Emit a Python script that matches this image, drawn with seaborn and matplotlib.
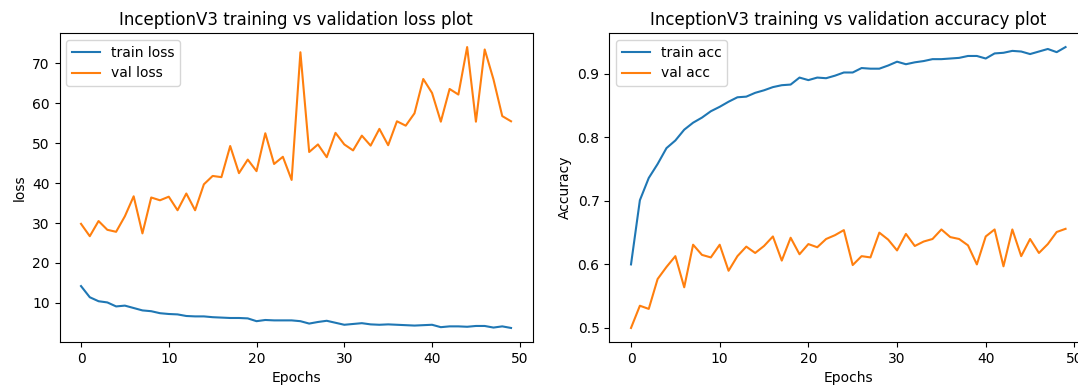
import numpy as np
import matplotlib
matplotlib.use("Agg")
import matplotlib.pyplot as plt
import seaborn as sns

epochs = list(range(50))

train_loss = [14.2, 11.4, 10.4, 10.1, 9.1, 9.3, 8.7, 8.1, 7.9, 7.4,
              7.2, 7.1, 6.7, 6.6, 6.6, 6.4, 6.3, 6.2, 6.2, 6.1,
              5.4, 5.7, 5.6, 5.6, 5.6, 5.4, 4.8, 5.2, 5.5, 5.0,
              4.5, 4.7, 4.9, 4.6, 4.5, 4.6, 4.5, 4.4, 4.3, 4.4,
              4.5, 3.9, 4.1, 4.1, 4.0, 4.2, 4.2, 3.8, 4.1, 3.7]
val_loss = [29.8, 26.7, 30.5, 28.3, 27.8, 31.7, 36.7, 27.4, 36.4, 35.7,
            36.6, 33.2, 37.4, 33.2, 39.7, 41.8, 41.5, 49.3, 42.5, 45.9,
            43.0, 52.5, 44.8, 46.6, 40.8, 72.8, 47.8, 49.7, 46.5, 52.6,
            49.7, 48.2, 51.9, 49.4, 53.6, 49.5, 55.5, 54.4, 57.5, 66.1,
            62.6, 55.4, 63.6, 62.2, 74.1, 55.4, 73.5, 66.0, 56.8, 55.5]

train_acc = [0.600, 0.701, 0.736, 0.758, 0.783, 0.795, 0.812, 0.823, 0.831, 0.841,
             0.848, 0.856, 0.863, 0.864, 0.870, 0.874, 0.879, 0.882, 0.883, 0.894,
             0.890, 0.894, 0.893, 0.897, 0.902, 0.902, 0.909, 0.908, 0.908, 0.913,
             0.919, 0.915, 0.918, 0.920, 0.923, 0.923, 0.924, 0.925, 0.928, 0.928,
             0.924, 0.932, 0.933, 0.936, 0.935, 0.931, 0.935, 0.939, 0.934, 0.942]
val_acc = [0.500, 0.535, 0.530, 0.577, 0.596, 0.613, 0.564, 0.631, 0.615, 0.611,
           0.631, 0.590, 0.613, 0.628, 0.618, 0.629, 0.644, 0.606, 0.642, 0.616,
           0.632, 0.627, 0.640, 0.646, 0.654, 0.599, 0.613, 0.611, 0.650, 0.639,
           0.622, 0.648, 0.629, 0.636, 0.640, 0.655, 0.643, 0.640, 0.630, 0.600,
           0.644, 0.655, 0.597, 0.655, 0.613, 0.640, 0.618, 0.632, 0.651, 0.656]

fig = plt.figure(figsize=(10.78, 3.89), dpi=100)
ax1 = fig.add_axes([0.0552, 0.1208, 0.4388, 0.7943])
ax2 = fig.add_axes([0.5652, 0.1208, 0.4434, 0.7943])

# loss plot
sns.lineplot(x=epochs, y=train_loss, label="train loss", ax=ax1, color="#1f77b4", linewidth=1.5)
sns.lineplot(x=epochs, y=val_loss, label="val loss", ax=ax1, color="#ff7f0e", linewidth=1.5)
ax1.set_title("InceptionV3 training vs validation loss plot", fontsize=12)
ax1.set_xlabel("Epochs")
ax1.set_ylabel("loss")
ax1.legend(loc="upper left")

# accuracy plot
sns.lineplot(x=epochs, y=train_acc, label="train acc", ax=ax2, color="#1f77b4", linewidth=1.5)
sns.lineplot(x=epochs, y=val_acc, label="val acc", ax=ax2, color="#ff7f0e", linewidth=1.5)
ax2.set_title("InceptionV3 training vs validation accuracy plot", fontsize=12)
ax2.set_xlabel("Epochs")
ax2.set_ylabel("Accuracy")
ax2.legend(loc="upper left")

for ax in (ax1, ax2):
    ax.set_xticks([0, 10, 20, 30, 40, 50])

fig.savefig("out.png", dpi=100)
